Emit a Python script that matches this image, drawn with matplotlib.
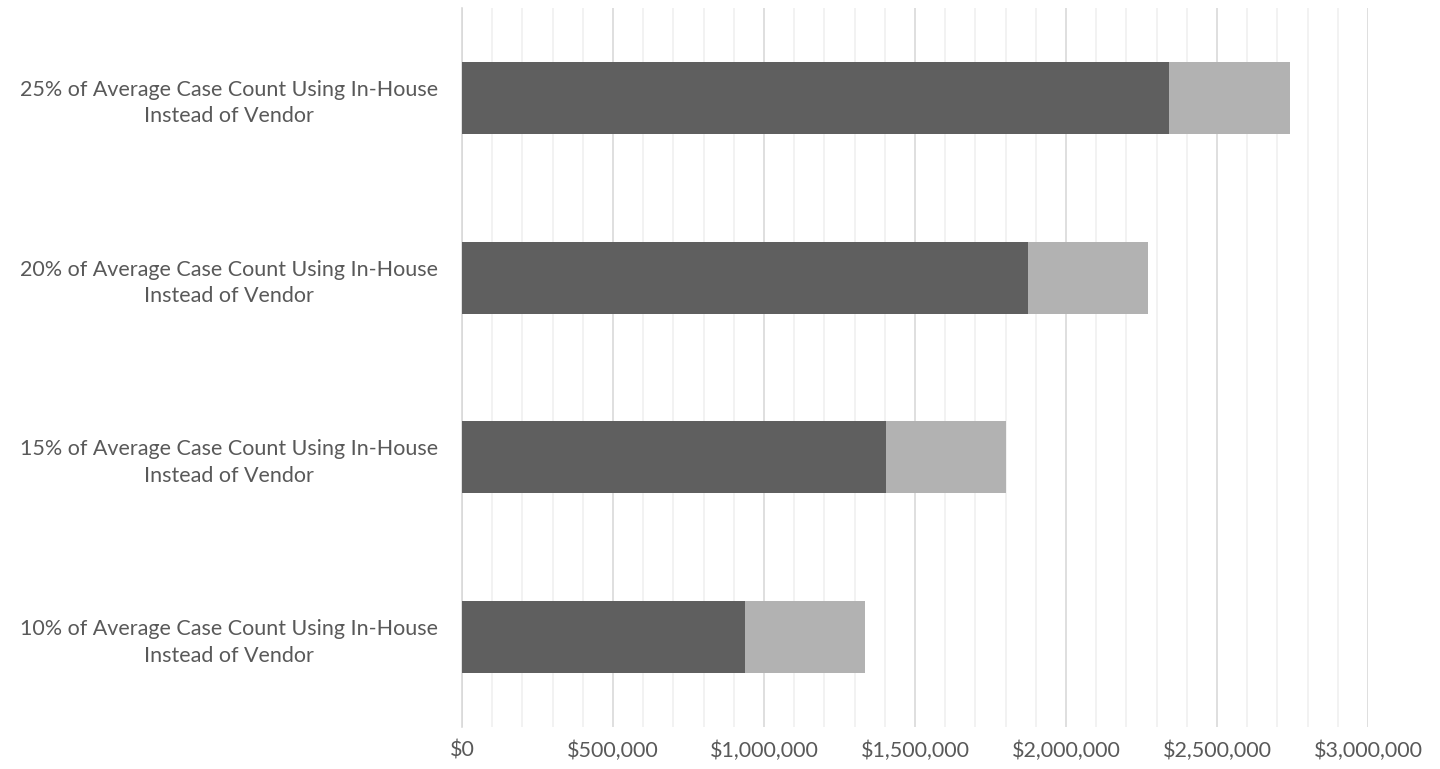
import matplotlib

matplotlib.use("Agg")
import matplotlib.pyplot as plt
from matplotlib.ticker import FuncFormatter, MultipleLocator

# values
categories = [
    "10% of Average Case Count Using In-House\nInstead of Vendor",
    "15% of Average Case Count Using In-House\nInstead of Vendor",
    "20% of Average Case Count Using In-House\nInstead of Vendor",
    "25% of Average Case Count Using In-House\nInstead of Vendor",
]
dark_values = [937000, 1404000, 1874000, 2341000]
light_values = [397000, 397000, 398000, 401000]

DARK = "#5f5f5f"
LIGHT = "#b2b2b2"
TEXT = "#595959"

plt.rcParams["font.family"] = ["Lato", "DejaVu Sans"]

fig = plt.figure(figsize=(14.4, 7.69), dpi=100)
ax = fig.add_axes([462 / 1440, 1 - 727 / 769, (1368 - 462) / 1440, (727 - 8) / 769])

y = range(len(categories))
ax.barh(y, dark_values, height=0.4, color=DARK, zorder=3)
ax.barh(y, light_values, left=dark_values, height=0.4, color=LIGHT, zorder=3)

ax.set_xlim(0, 3000000)
ax.set_ylim(-0.5, len(categories) - 0.5)
ax.xaxis.set_major_locator(MultipleLocator(500000))
ax.xaxis.set_minor_locator(MultipleLocator(100000))
ax.xaxis.set_major_formatter(FuncFormatter(lambda v, _: f"${v:,.0f}"))
ax.grid(axis="x", which="major", color="#d9d9d9", linewidth=1.2, zorder=0)
ax.grid(axis="x", which="minor", color="#f0f0f0", linewidth=1.2, zorder=0)

ax.set_yticks(list(y))
ax.set_yticklabels(categories, ha="center", multialignment="center", linespacing=1.4)
ax.tick_params(axis="y", length=0, pad=168, labelsize=15.5, labelcolor=TEXT)
ax.tick_params(axis="x", which="both", length=0, pad=10, labelsize=15.5, labelcolor=TEXT)

for side in ("top", "right", "bottom"):
    ax.spines[side].set_visible(False)
ax.spines["left"].set_color("#d9d9d9")
ax.spines["left"].set_linewidth(1.2)

fig.savefig("out.png", dpi=100)
